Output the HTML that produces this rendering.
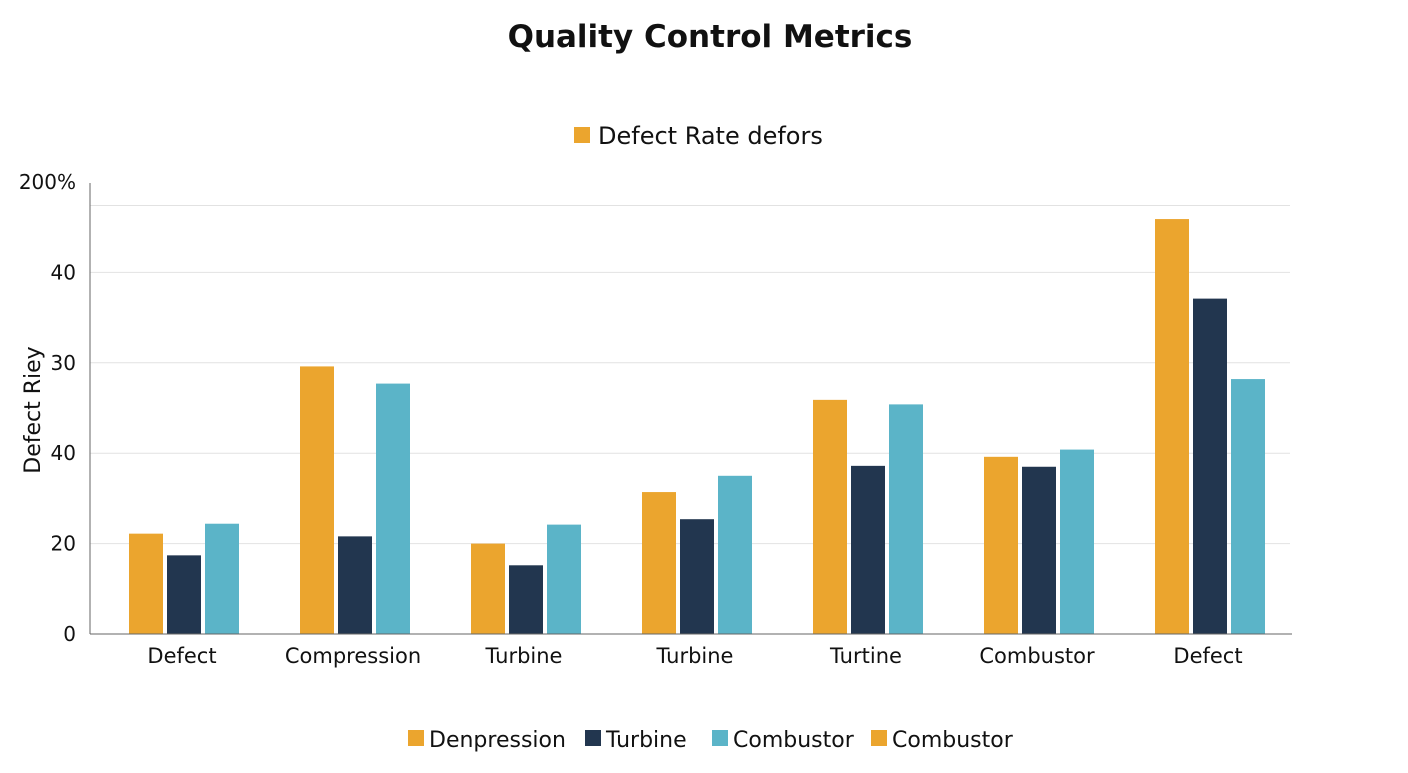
<!DOCTYPE html>
<html><head><meta charset="utf-8"><style>
body{margin:0;background:#fff;font-family:"Liberation Sans",sans-serif;}
svg text{font-family:"DejaVu Sans","Liberation Sans",sans-serif;fill:#111;}
</style></head><body>
<svg id="c" width="1408" height="768">
<text x="710" y="47" text-anchor="middle" font-size="31" font-weight="bold">Quality Control Metrics</text>
<g>
<rect x="574" y="127" width="16" height="16" fill="#EBA52E"/>
<text x="598" y="144" font-size="24">Defect Rate defors</text>
</g>
<text transform="translate(40,410) rotate(-90)" text-anchor="middle" font-size="22">Defect Riey</text>
<g id="grid"></g><g id="bars"></g><g id="axes"></g>
<g id="legend"></g>
</svg>
<script>
const categories=["Defect","Compression","Turbine","Turbine","Turtine","Combustor","Defect"];
const seriesA=[11.1,29.6,10.0,15.7,25.9,19.6,45.9];
const seriesB=[8.7,10.8,7.6,12.7,18.6,18.5,37.1];
const seriesC=[12.2,27.7,12.1,17.5,25.4,20.4,28.2];
const tickValues=[0,10,20,30,40,47.4,50];
const tickLabels=["0","20","40","30","40","","200%"];
const legendNames=["Denpression","Turbine","Combustor","Combustor"];
const colors=["#EBA52E","#22364F","#5BB4C8","#EBA52E"];
const NS="http://www.w3.org/2000/svg";
const x0=90,x1=1292,yBase=634,pxPer=9.04;
const y=v=>yBase-v*pxPer;
const xc=i=>184+i*171;
function mk(t,a,p){const e=document.createElementNS(NS,t);for(const k in a)e.setAttribute(k,a[k]);p.appendChild(e);return e;}
const grid=document.getElementById('grid'),bars=document.getElementById('bars'),axes=document.getElementById('axes'),leg=document.getElementById('legend');
tickValues.forEach((v,i)=>{
  if(v>0&&v<50){const l=mk('line',{x1:x0,x2:1290,y1:y(v),y2:y(v),stroke:'#e2e2e2','stroke-width':1},grid);
  
  }
  if(tickLabels[i]){const t=mk('text',{x:76,y:y(v)+7,'text-anchor':'end','font-size':20},axes);t.textContent=tickLabels[i];
  
  }
});
[seriesA,seriesB,seriesC].forEach((s,si)=>{
  s.forEach((v,i)=>{
    const r=mk('rect',{x:xc(i)-55+si*38,y:y(v),width:34,height:v*pxPer,fill:colors[si]},bars);
    
    
  });
});
mk('line',{x1:x0,x2:x0,y1:183,y2:yBase,stroke:'#666'},axes);
mk('line',{x1:x0,x2:x1,y1:yBase,y2:yBase,stroke:'#666'},axes);
categories.forEach((c,i)=>{
  const t=mk('text',{x:xc(i)-2,y:663,'text-anchor':'middle','font-size':21},axes);t.textContent=c;
  
  
});
const lx=[408,585,712,871];
legendNames.forEach((n,i)=>{
  mk('rect',{x:lx[i],y:730,width:16,height:16,fill:colors[i]},leg);
  const t=mk('text',{x:lx[i]+21,y:747,'font-size':22},leg);t.textContent=n;
  
  
});
</script>
</body></html>
